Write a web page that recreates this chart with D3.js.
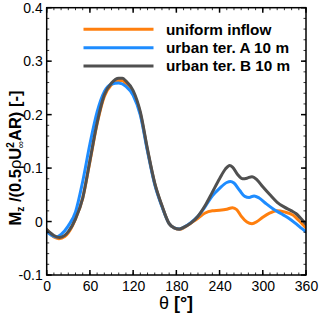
<!DOCTYPE html>
<html><head><meta charset="utf-8">
<script src="https://cdn.jsdelivr.net/npm/d3@7"></script>
<style>body{margin:0;background:#fff}svg{display:block}text{font-family:"Liberation Sans",Arial,sans-serif}</style>
</head><body><svg id="c" width="320" height="314"></svg>
<script>
const xTicks = [0, 60, 120, 180, 240, 300, 360];
const yTicks = [-0.1, 0, 0.1, 0.2, 0.3, 0.4];
const yTickLabels = ["-0.1", "0", "0.1", "0.2", "0.3", "0.4"];
const seriesNames = ["uniform inflow", "urban ter. A 10 m", "urban ter. B 10 m"];
const seriesColors = ["#ff7f0e", "#1e8cff", "#505050"];

const thetaU = [0,10,17,25,30,40,50,60,70,80,90,100,105,110,120,130,140,150,160,170,177,184,190,200,210,220,230,240,250,258,264,270,278,285,292,300,310,319,330,342,350,360];
const valU   = [-0.015,-0.029,-0.032,-0.028,-0.021,0.005,0.044,0.112,0.183,0.234,0.256,0.264,0.264,0.258,0.241,0.202,0.133,0.071,0.029,-0.004,-0.012,-0.015,-0.012,-0.003,0.006,0.016,0.020,0.021,0.023,0.026,0.022,0.010,-0.001,-0.004,0.000,0.008,0.016,0.020,0.018,0.012,0.002,-0.012];

const thetaA = [0,7,13,20,30,40,50,60,70,80,90,100,110,120,130,140,150,160,170,177,184,190,200,210,220,230,240,250,255,260,268,275,281,288,295,305,315,325,335,345,352,360];
const valA   = [-0.019,-0.026,-0.029,-0.024,-0.008,0.018,0.075,0.145,0.205,0.243,0.257,0.259,0.253,0.236,0.199,0.131,0.069,0.028,-0.004,-0.012,-0.014,-0.011,-0.002,0.010,0.028,0.048,0.062,0.073,0.075,0.072,0.058,0.047,0.045,0.048,0.044,0.033,0.023,0.015,0.007,-0.003,-0.011,-0.019];

const thetaB = [0,10,18,25,30,40,50,60,70,80,90,100,105,110,120,130,140,150,160,170,177,184,190,200,210,220,230,240,248,254,258,265,272,278,285,292,300,310,320,330,340,346,352,360];
const valB   = [-0.015,-0.026,-0.030,-0.026,-0.019,0.005,0.044,0.114,0.185,0.237,0.259,0.268,0.268,0.263,0.245,0.205,0.135,0.072,0.030,-0.004,-0.012,-0.014,-0.011,-0.003,0.010,0.030,0.055,0.080,0.098,0.105,0.102,0.088,0.080,0.081,0.084,0.078,0.065,0.050,0.036,0.027,0.020,0.015,0.007,-0.005];

const series = [
  {name: seriesNames[0], color: seriesColors[0], t: thetaU, v: valU},
  {name: seriesNames[1], color: seriesColors[1], t: thetaA, v: valA},
  {name: seriesNames[2], color: seriesColors[2], t: thetaB, v: valB}
];

const svg = d3.select("#c");
const L = 46.7, R = 306, T = 7.7, B = 275;
const x = d3.scaleLinear().domain([0, 360]).range([L, R]);
const y = d3.scaleLinear().domain([-0.1, 0.4]).range([B, T]);

svg.append("clipPath").attr("id","pc").append("rect")
  .attr("x", L).attr("y", T).attr("width", R-L).attr("height", B-T);

const line = d3.line().x(d => x(d[0])).y(d => y(d[1])).curve(d3.curveMonotoneX);
const g = svg.append("g").attr("clip-path","url(#pc)");
series.forEach(s => {
  g.append("path").datum(s.t.map((t,i)=>[t, s.v[i]]))
    .attr("d", line).attr("fill","none").attr("stroke", s.color)
    .attr("stroke-width", 3).attr("stroke-linejoin","round").attr("stroke-linecap","round");
});

const xMinor = d3.range(0, 361, 10);
const yMinor = d3.range(-0.1, 0.4001, 0.02);
const ax = svg.append("g");
const axB = ax.append("g").attr("transform",`translate(0,${B})`)
  .call(d3.axisBottom(x).tickValues(xTicks).tickSizeInner(0).tickSizeOuter(0).tickPadding(6));
const axL = ax.append("g").attr("transform",`translate(${L},0)`)
  .call(d3.axisLeft(y).tickValues(yTicks).tickSizeInner(0).tickSizeOuter(0).tickPadding(4)
    .tickFormat((d,i)=>yTickLabels[i]));
ax.selectAll(".domain").remove();
ax.selectAll(".tick line").remove();
ax.selectAll("text").attr("font-size", 14).attr("fill","#000").attr("font-family","'Liberation Sans',Arial,sans-serif");

const minorG = svg.append("g").attr("stroke","#000").attr("stroke-width",0.8);
xMinor.forEach(v => {
  minorG.append("line").attr("x1",x(v)).attr("x2",x(v)).attr("y1",B).attr("y2",B-2.5);
  minorG.append("line").attr("x1",x(v)).attr("x2",x(v)).attr("y1",T).attr("y2",T+2.5);
});
yMinor.forEach(v => {
  minorG.append("line").attr("x1",L).attr("x2",L+2.5).attr("y1",y(v)).attr("y2",y(v));
  minorG.append("line").attr("x1",R).attr("x2",R-2.5).attr("y1",y(v)).attr("y2",y(v));
});
const majorG = svg.append("g").attr("stroke","#000").attr("stroke-width",1.5);
xTicks.forEach(v => {
  majorG.append("line").attr("x1",x(v)).attr("x2",x(v)).attr("y1",B).attr("y2",B-5);
  majorG.append("line").attr("x1",x(v)).attr("x2",x(v)).attr("y1",T).attr("y2",T+5);
});
yTicks.forEach(v => {
  majorG.append("line").attr("x1",L).attr("x2",L+5).attr("y1",y(v)).attr("y2",y(v));
  majorG.append("line").attr("x1",R).attr("x2",R-5).attr("y1",y(v)).attr("y2",y(v));
});

svg.append("rect").attr("x",L).attr("y",T).attr("width",R-L).attr("height",B-T)
  .attr("fill","none").attr("stroke","#000").attr("stroke-width",1.5);

series.forEach((s,i) => {
  const ly = 29.3 + i*18.4;
  svg.append("line").attr("x1",83.5).attr("x2",153.5).attr("y1",ly).attr("y2",ly)
    .attr("stroke",s.color).attr("stroke-width",3);
  svg.append("text").attr("x",166).attr("y",ly+5.3).attr("font-size",15.3)
    .attr("font-weight","bold").attr("fill","#000").text(s.name);
});

const xt = svg.append("text").attr("x",176).attr("y",309).attr("text-anchor","middle")
  .attr("font-size",18).attr("fill","#000");
xt.append("tspan").text("θ ");
xt.append("tspan").attr("font-weight","bold").text("[°]");

const yt = svg.append("text").attr("transform","translate(21,158) rotate(-90)")
  .attr("text-anchor","middle").attr("font-size",16.5).attr("font-weight","bold").attr("fill","#000");
yt.append("tspan").text("M");
yt.append("tspan").attr("font-size",10).attr("dy",3).text("z");
yt.append("tspan").attr("dy",-3).text(" /(0.5");
yt.append("tspan").attr("font-weight","normal").text("ρ");
yt.append("tspan").text("U");
yt.append("tspan").attr("font-size",10).attr("dy",-7).text("2");
yt.append("tspan").attr("font-size",10).attr("dx",-6).attr("dy",10).attr("font-weight","normal").text("∞");
yt.append("tspan").attr("dy",-3).text("AR) [-]");
</script></body></html>
